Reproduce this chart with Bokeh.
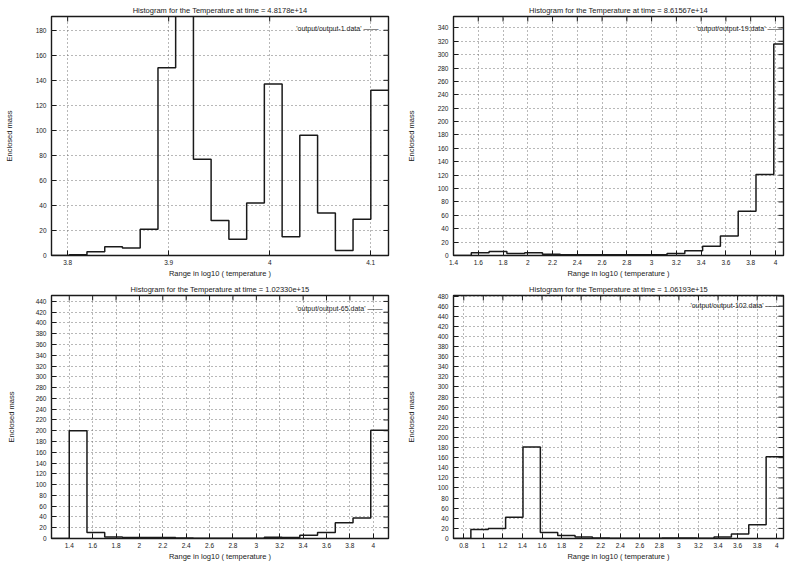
import math
from bokeh.plotting import figure
from bokeh.layouts import gridplot
from bokeh.models import Label, Range1d, FixedTicker
from bokeh.embed import file_html
from bokeh.resources import INLINE

FONT = "Liberation Sans"
INK = "#1a1a1a"

# ---------------- data ----------------
# Panel 1 (top-left)
p1_title = "Histogram for the Temperature at time = 4.8178e+14"
p1_key = "'output/output-1.data'"
p1_edges = [3.784, 3.8016, 3.8191, 3.8367, 3.8542, 3.8718, 3.8894, 3.9069, 3.9245, 3.942,
            3.9596, 3.9772, 3.9947, 4.0123, 4.0298, 4.0474, 4.065, 4.0825, 4.1001, 4.1176]
p1_mass = [0, 0.5, 3, 7, 6, 21, 150, 230, 77, 28, 13, 42, 137, 15, 96, 34, 4, 29, 132]
p1_xticks = [3.8, 3.9, 4.0, 4.1]
p1_xlabels = ["3.8", "3.9", "4", "4.1"]
p1_yticks = [0, 20, 40, 60, 80, 100, 120, 140, 160, 180]
p1_yrange = (0, 191)

# Panel 2 (top-right)
p2_title = "Histogram for the Temperature at time = 8.61567e+14"
p2_key = "'output/output-19.data'"
p2_edges = [1.4, 1.5437, 1.6874, 1.8311, 1.9748, 2.1185, 2.2622, 2.4059, 2.5496, 2.6933,
            2.837, 2.9807, 3.1244, 3.2681, 3.4118, 3.5555, 3.6992, 3.8429, 3.9866, 4.1303]
p2_mass = [0, 4, 6, 3, 4, 2, 1, 1, 1, 1, 1, 1, 3, 7, 14, 29, 66, 121, 316]
p2_xticks = [1.4, 1.6, 1.8, 2.0, 2.2, 2.4, 2.6, 2.8, 3.0, 3.2, 3.4, 3.6, 3.8, 4.0]
p2_xlabels = ["1.4", "1.6", "1.8", "2", "2.2", "2.4", "2.6", "2.8", "3", "3.2", "3.4", "3.6", "3.8", "4"]
p2_yticks = [0, 20, 40, 60, 80, 100, 120, 140, 160, 180, 200, 220, 240, 260, 280, 300, 320, 340]
p2_xrange = (1.4, 4.065)
p2_yrange = (0, 357)

# Panel 3 (bottom-left)
p3_title = "Histogram for the Temperature at time = 1.02330e+15"
p3_key = "'output/output-65.data'"
p3_edges = [1.248, 1.3997, 1.5514, 1.7031, 1.8548, 2.0065, 2.1582, 2.3099, 2.4616, 2.6133,
            2.765, 2.9167, 3.0684, 3.2201, 3.3718, 3.5235, 3.6752, 3.8269, 3.9786, 4.1303]
p3_mass = [0, 200, 11, 3, 2, 2, 2, 1, 0.5, 0.5, 0.5, 0.5, 2.5, 2, 6, 11, 29, 38, 201]
p3_xticks = [1.4, 1.6, 1.8, 2.0, 2.2, 2.4, 2.6, 2.8, 3.0, 3.2, 3.4, 3.6, 3.8, 4.0]
p3_xlabels = ["1.4", "1.6", "1.8", "2", "2.2", "2.4", "2.6", "2.8", "3", "3.2", "3.4", "3.6", "3.8", "4"]
p3_yticks = [0, 20, 40, 60, 80, 100, 120, 140, 160, 180, 200, 220, 240, 260, 280, 300,
             320, 340, 360, 380, 400, 420, 440]
p3_yrange = (0, 451)

# Panel 4 (bottom-right)
p4_title = "Histogram for the Temperature at time = 1.06193e+15"
p4_key = "'output/output-102.data'"
p4_edges = [0.695, 0.8726, 1.0502, 1.2278, 1.4054, 1.583, 1.7606, 1.9382, 2.1158, 2.2934,
            2.471, 2.6486, 2.8262, 3.0038, 3.1814, 3.359, 3.5366, 3.7142, 3.8918, 4.0694]
p4_mass = [0, 18, 20, 42, 181, 12, 6, 3, 1, 0.5, 0.5, 0.5, 1, 1, 0.5, 3, 9, 27, 162]
p4_xticks = [0.8, 1.0, 1.2, 1.4, 1.6, 1.8, 2.0, 2.2, 2.4, 2.6, 2.8, 3.0, 3.2, 3.4, 3.6, 3.8, 4.0]
p4_xlabels = ["0.8", "1", "1.2", "1.4", "1.6", "1.8", "2", "2.2", "2.4", "2.6", "2.8", "3",
              "3.2", "3.4", "3.6", "3.8", "4"]
p4_yticks = [0, 20, 40, 60, 80, 100, 120, 140, 160, 180, 200, 220, 240, 260, 280, 300, 320,
             340, 360, 380, 400, 420, 440, 460, 480]
p4_yrange = (0, 481)

X_LABEL = "Range in log10 ( temperature )"
Y_LABEL = "Enclosed mass"


def style_axis(ax, ticks, labels=None):
    ax.ticker = FixedTicker(ticks=ticks)
    if labels is not None:
        ax.major_label_overrides = dict(zip(ticks, labels))
    ax.axis_line_color = None
    ax.major_tick_in = 5
    ax.major_tick_out = 0
    ax.major_tick_line_color = INK
    ax.minor_tick_line_color = None
    ax.major_label_text_font = FONT
    ax.major_label_text_color = INK
    ax.major_label_text_font_size = "6.5px"
    ax.axis_label_text_font = FONT
    ax.axis_label_text_font_style = "normal"
    ax.axis_label_text_font_size = "7.5px"
    ax.axis_label_text_color = INK


def make_panel(title, key, edges, mass, xticks, xlabels, yticks, xr, yr,
               width, height, bl, br, bt, bb, key_dx, key_dy, ylab_standoff):
    p = figure(width=width, height=height, output_backend="svg", toolbar_location=None,
               x_range=Range1d(*xr), y_range=Range1d(*yr),
               min_border_left=bl, min_border_right=br, min_border_top=bt, min_border_bottom=bb,
               background_fill_color="white", border_fill_color="white")
    p.title.text = title
    p.title.text_font = FONT
    p.title.text_font_size = "7.5px"
    p.title.text_font_style = "normal"
    p.title.text_color = INK
    p.title.align = "center"
    p.title.standoff = 3

    p.outline_line_color = INK
    p.outline_line_width = 1.4
    p.outline_line_alpha = 1

    style_axis(p.xaxis[0], xticks, xlabels)
    style_axis(p.yaxis[0], yticks)
    p.xaxis.axis_label = X_LABEL
    p.xaxis.major_label_standoff = 4
    p.xaxis.axis_label_standoff = 1
    p.yaxis.axis_label = Y_LABEL
    p.yaxis.major_label_standoff = 5
    p.yaxis.axis_label_standoff = ylab_standoff

    p.xgrid.ticker = FixedTicker(ticks=xticks)
    p.ygrid.ticker = FixedTicker(ticks=yticks)
    for g in (p.xgrid[0], p.ygrid[0]):
        g.grid_line_color = "#707070"
        g.grid_line_dash = "1 3"
        g.grid_line_width = 1

    # mirrored inward ticks on the top and right borders (as gnuplot draws them)
    p.ray(x=xticks, y=[yr[1]] * len(xticks), length=5, length_units="screen",
          angle=-math.pi / 2, line_color=INK, line_width=1)
    p.ray(x=[xr[1]] * len(yticks), y=yticks, length=5, length_units="screen",
          angle=math.pi, line_color=INK, line_width=1)

    xs = list(edges)
    ys = list(mass) + [mass[-1]]
    p.step(xs, ys, mode="after", line_color=INK, line_width=1.5)

    p.add_layout(Label(x=xr[1], y=yr[1], x_offset=key_dx, y_offset=key_dy, text=key,
                       text_align="right", text_baseline="middle", text_font=FONT,
                       text_font_size="7px", text_color=INK))
    p.add_layout(Label(x=xr[1], y=yr[1], x_offset=key_dx + 2, y_offset=key_dy, text="\u2014\u2014",
                       text_align="left", text_baseline="middle", text_font=FONT,
                       text_font_size="7.5px", text_color=INK))
    return p


pa = make_panel(p1_title, p1_key, p1_edges, p1_mass, p1_xticks, p1_xlabels, p1_yticks,
                (p1_edges[0], p1_edges[-1]), p1_yrange, 394, 280, 51, 4, 14, 21, -27, -12, 19)
pb = make_panel(p2_title, p2_key, p2_edges, p2_mass, p2_xticks, p2_xlabels, p2_yticks,
                p2_xrange, p2_yrange, 391, 280, 59, 0, 16, 21, -18, -12, 19)
pc = make_panel(p3_title, p3_key, p3_edges, p3_mass, p3_xticks, p3_xlabels, p3_yticks,
                (p3_edges[0], p3_edges[-1]), p3_yrange, 394, 284, 49, 6, 12, 26, -23, -13, 17)
pd = make_panel(p4_title, p4_key, p4_edges, p4_mass, p4_xticks, p4_xlabels, p4_yticks,
                (p4_edges[0], p4_edges[-1]), p4_yrange, 391, 284, 59, 2, 15, 26, -20, -10, 19)

grid = gridplot([[pa, pb], [pc, pd]], toolbar_location=None)

open("out.html", "w").write(file_html(grid, INLINE))
